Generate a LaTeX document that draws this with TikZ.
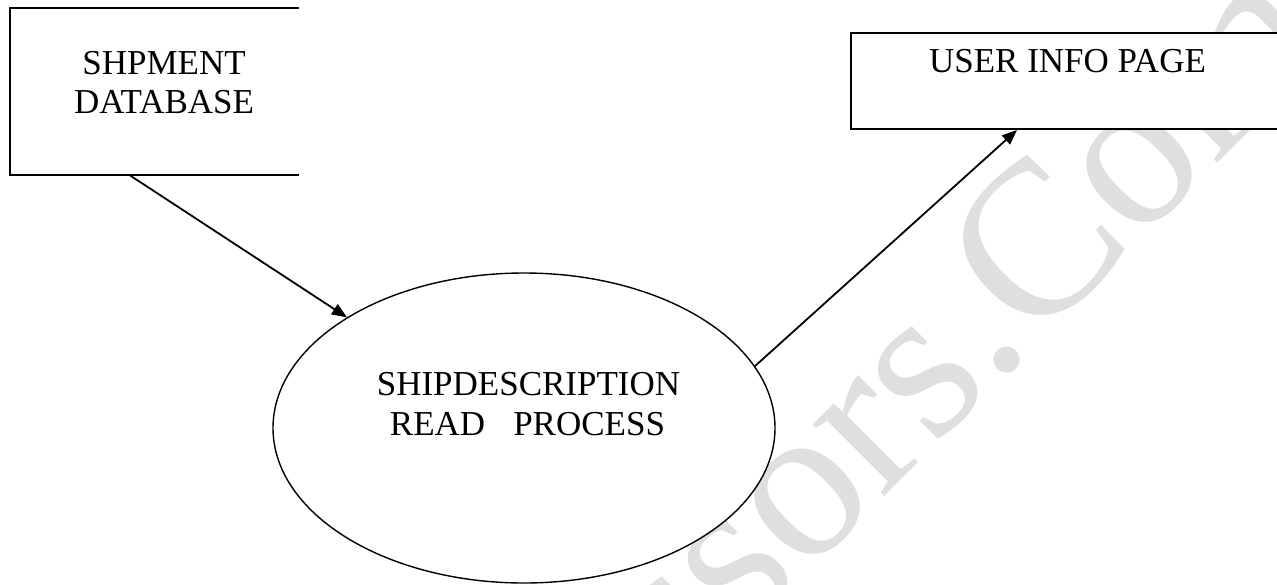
\documentclass[tikz,border=0pt]{standalone}
\usepackage{fontspec}
\setmainfont{Liberation Serif}
\usetikzlibrary{arrows.meta,shapes.geometric}

\tikzset{
  frame/.style={line width=2pt, line cap=rect},
  flow/.style={line width=1.8pt, -{Triangle[length=15pt,width=12pt]}},
  lbl/.style={anchor=base, inner sep=0pt, font=\fontsize{35}{40}\selectfont},
  wmark/.style={rotate=45, anchor=base west, inner sep=0pt, text=gray!25,
    font=\fontsize{220}{220}\selectfont},
}

\begin{document}
\begin{tikzpicture}[x=1pt, y=-1pt]
  \clip (0,0) rectangle (1277,584);
  \fill[white] (0,0) rectangle (1277,584);

  % background watermark
  \node[wmark] (wm) at (346,1035) {Professors.Com};

  % data store, drawn open on its right side
  \node[anchor=north west, minimum width=288, minimum height=167.5, inner sep=0pt] (db) at (10,7.5) {};
  \draw[frame] (db.north east) -- (db.north west) -- (db.south west) -- (db.south east);
  \node[lbl] (dbA) at (164,74) {SHPMENT};
  \node[lbl] (dbB) at (164,113) {DATABASE};

  % output page, running off the right edge
  \node[anchor=north west, minimum width=460, minimum height=96, inner sep=0pt, draw, fill=white, frame] (ui) at (850,32) {};
  \node[lbl] (uiA) at (1067.5,72) {USER INFO PAGE};

  % process
  \node[ellipse, draw, fill=white, line width=1.4pt, minimum width=502, minimum height=310, inner sep=0pt] (proc) at (524,428) {};
  \node[lbl] (pA) at (528.5,395) {SHIPDESCRIPTION};
  \node[lbl] (pB) at (527.5,435) {READ\hspace*{0.8em}PROCESS};

  % flows
  \coordinate (dbout) at ([xshift=120pt]db.south west);
  \coordinate (uiin) at ([xshift=167pt]ui.south west);
  \draw[flow] (dbout) -- (proc.148.7);
  \draw[flow] (proc.15.3) -- (uiin);
\end{tikzpicture}
\end{document}
